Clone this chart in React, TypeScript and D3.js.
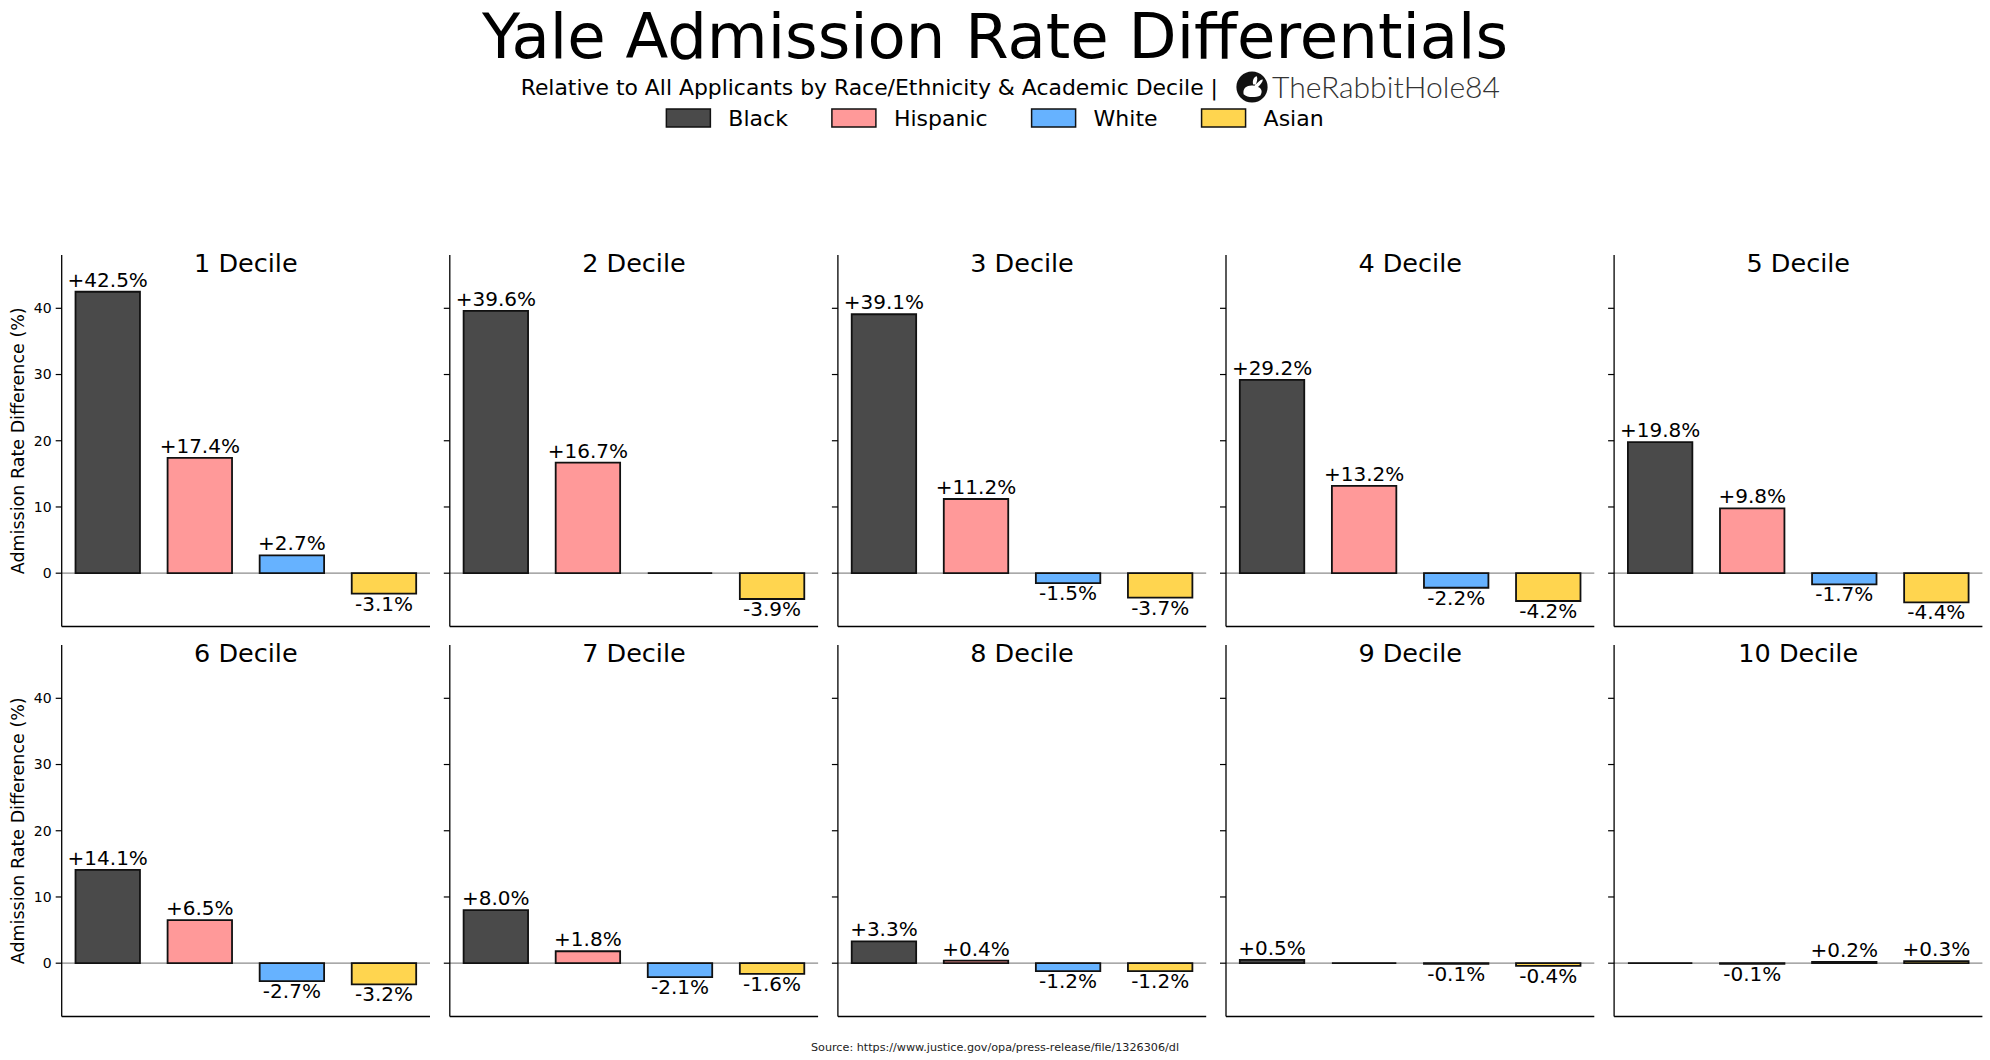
import React, { useEffect, useRef } from 'react';
import * as d3 from 'd3';

// Admission rate difference vs. all applicants (%), one entry per decile
const deciles = ['1 Decile', '2 Decile', '3 Decile', '4 Decile', '5 Decile', '6 Decile', '7 Decile', '8 Decile', '9 Decile', '10 Decile'];
const races = ['Black', 'Hispanic', 'White', 'Asian'];
const raceColors = ['#4a4a4a', '#ff9999', '#66b2ff', '#ffd54f'];
const blackVals = [42.5, 39.6, 39.1, 29.2, 19.8, 14.1, 8.0, 3.3, 0.5, 0.0];
const hispanicVals = [17.4, 16.7, 11.2, 13.2, 9.8, 6.5, 1.8, 0.4, 0.0, -0.1];
const whiteVals = [2.7, 0.0, -1.5, -2.2, -1.7, -2.7, -2.1, -1.2, -0.1, 0.2];
const asianVals = [-3.1, -3.9, -3.7, -4.2, -4.4, -3.2, -1.6, -1.2, -0.4, 0.3];
const yTicks = [0, 10, 20, 30, 40];
const yDomain = [-8.05, 48.05];

const FONT = '"DejaVu Sans", sans-serif';

const App: React.FC = () => {
  const svgRef = useRef<SVGSVGElement>(null);

  useEffect(() => {
    if (!svgRef.current) return;
    const width = 1990;
    const height = 1060;

    d3.select(svgRef.current).selectAll('*').remove();
    const svg = d3.select(svgRef.current)
      .attr('width', width)
      .attr('height', height)
      .attr('viewBox', `0 0 ${width} ${height}`);

    svg.append('rect').attr('width', width).attr('height', height).attr('fill', 'white');

    const series = [blackVals, hispanicVals, whiteVals, asianVals];

    // Title block
    svg.append('text')
      .attr('x', 995).attr('y', 58)
      .attr('text-anchor', 'middle')
      .attr('font-family', FONT).attr('font-size', 62.5)
      .attr('fill', '#000')
      .text('Yale Admission Rate Differentials');

    svg.append('text')
      .attr('x', 1218).attr('y', 94.5)
      .attr('text-anchor', 'end')
      .attr('font-family', FONT).attr('font-size', 21.9)
      .attr('fill', '#000')
      .text('Relative to All Applicants by Race/Ethnicity & Academic Decile |');

    // logo: black disc with a white rabbit
    const logo = svg.append('g').attr('transform', 'translate(1252,87) scale(1.2)');
    logo.append('circle').attr('r', 13).attr('fill', '#111');
    logo.append('path')
      .attr('d', 'M-7,6 C-8,0 -3,-2 2,-1 C5,-4 8,-7 9,-6 C9,-4 7,-2 5,0 C8,1 9,4 7,7 C3,9 -4,9 -7,6 Z M1,-2 C0,-6 2,-9 4,-9 C5,-7 4,-4 3,-2 Z')
      .attr('fill', 'white');

    svg.append('text')
      .attr('x', 1272).attr('y', 98)
      .attr('font-family', 'Lato, "Open Sans", sans-serif')
      .attr('font-weight', 300)
      .attr('font-size', 30)
      .attr('fill', '#333')
      .attr('textLength', 228)
      .attr('lengthAdjust', 'spacingAndGlyphs')
      .text('TheRabbitHole84');

    // Legend
    const legendFont = 22;
    const ctx = document.createElement('canvas').getContext('2d');
    const measure = (s: string) => {
      if (!ctx) return s.length * legendFont * 0.6;
      ctx.font = `${legendFont}px "DejaVu Sans"`;
      return ctx.measureText(s).width;
    };
    const handleW = 44, handleH = 18, textGap = 18, colGap = 44;
    const entryW = races.map(r => handleW + textGap + measure(r));
    const totalW = d3.sum(entryW) + colGap * (races.length - 1);
    let lx = 995 - totalW / 2;
    races.forEach((r, i) => {
      const g = svg.append('g').attr('transform', `translate(${lx},0)`);
      g.append('rect')
        .attr('x', 0).attr('y', 109)
        .attr('width', handleW).attr('height', handleH)
        .attr('fill', raceColors[i])
        .attr('stroke', '#111').attr('stroke-width', 1.5);
      g.append('text')
        .attr('x', handleW + textGap).attr('y', 126)
        .attr('font-family', FONT).attr('font-size', legendFont)
        .attr('fill', '#000')
        .text(r);
      lx += entryW[i] + colGap;
    });

    // Panels grid
    const gridLeft = 61.7, colStep = 388.1, panelW = 368.3;
    const rowTops = [255, 645];
    const panelH = 371.5;

    const x = d3.scaleLinear().domain([-0.5, races.length - 0.5]).range([0, panelW]);
    const y = d3.scaleLinear().domain(yDomain).range([panelH, 0]);
    const barW = x(0.35) - x(-0.35);

    deciles.forEach((dec, d) => {
      const col = d % 5;
      const row = Math.floor(d / 5);
      const g = svg.append('g')
        .attr('transform', `translate(${gridLeft + col * colStep},${rowTops[row]})`);

      // zero reference line
      g.append('line')
        .attr('x1', 0).attr('x2', panelW)
        .attr('y1', y(0)).attr('y2', y(0))
        .attr('stroke', '#8c8c8c').attr('stroke-width', 1.2);

      // bars
      races.forEach((_, r) => {
        const v = series[r][d];
        const x0 = x(r) - barW / 2;
        const yTop = y(Math.max(v, 0));
        const yBot = y(Math.min(v, 0));
        g.append('path')
          .attr('d', `M${x0},${yTop}H${x0 + barW}V${yBot}H${x0}Z`)
          .attr('fill', raceColors[r])
          .attr('stroke', '#111')
          .attr('stroke-width', 1.8);

        if (v !== 0) {
          const label = (v > 0 ? '+' : '') + v.toFixed(1) + '%';
          g.append('text')
            .attr('x', x(r))
            .attr('y', v > 0 ? y(v) - 5 : y(v) + 17)
            .attr('text-anchor', 'middle')
            .attr('font-family', FONT).attr('font-size', 20)
            .attr('fill', '#000')
            .text(label);
        }
      });

      // spines
      g.append('line')
        .attr('x1', 0).attr('x2', 0).attr('y1', 0).attr('y2', panelH)
        .attr('stroke', '#000').attr('stroke-width', 1.3);
      g.append('line')
        .attr('x1', 0).attr('x2', panelW).attr('y1', panelH).attr('y2', panelH)
        .attr('stroke', '#000').attr('stroke-width', 1.3);

      // y ticks (labels only on first column)
      yTicks.forEach(t => {
        g.append('line')
          .attr('x1', -6).attr('x2', 0)
          .attr('y1', y(t)).attr('y2', y(t))
          .attr('stroke', '#000').attr('stroke-width', 1.2);
        if (col === 0) {
          g.append('text')
            .attr('x', -10).attr('y', y(t))
            .attr('dy', '0.35em')
            .attr('text-anchor', 'end')
            .attr('font-family', FONT).attr('font-size', 14)
            .attr('fill', '#000')
            .text(String(t));
        }
      });

      if (col === 0) {
        g.append('text')
          .attr('transform', `translate(${24 - gridLeft},${panelH / 2}) rotate(-90)`)
          .attr('text-anchor', 'middle')
          .attr('font-family', FONT).attr('font-size', 17.5)
          .attr('fill', '#000')
          .text('Admission Rate Difference (%)');
      }

      // panel title
      g.append('text')
        .attr('x', panelW / 2).attr('y', 17)
        .attr('text-anchor', 'middle')
        .attr('font-family', FONT).attr('font-size', 25.5)
        .attr('fill', '#000')
        .text(dec);
    });

    // source note
    svg.append('text')
      .attr('x', 995).attr('y', 1051)
      .attr('text-anchor', 'middle')
      .attr('font-family', FONT).attr('font-size', 11.2)
      .attr('fill', '#222')
      .text('Source: https://www.justice.gov/opa/press-release/file/1326306/dl');
  }, []);

  return <svg ref={svgRef} style={{ position: 'absolute', left: 0, top: 0, display: 'block' }}></svg>;
};

export default App;
